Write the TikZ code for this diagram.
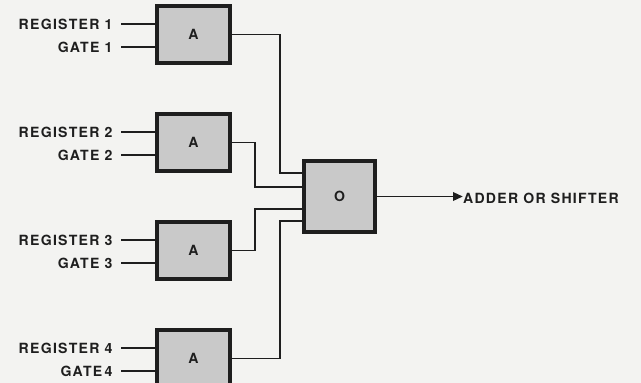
\documentclass[tikz,border=0pt]{standalone}
\usepackage{fontspec}
\newfontfamily\letterfont[LetterSpace=9]{TeX Gyre Heros}
\usetikzlibrary{arrows.meta, positioning, calc}
\definecolor{paper}{HTML}{F3F3F1}
\definecolor{boxgray}{HTML}{C9C9C9}
\definecolor{ink}{HTML}{1E1E1E}
\tikzset{
    font=\letterfont\bfseries\fontsize{10}{12}\selectfont,
    % Shapes
    gate/.style={rectangle, draw=ink, fill=boxgray, line width=2.8pt,
                 minimum width=1.82cm, minimum height=1.42cm, inner sep=0pt, text=ink},
    orgate/.style={gate, minimum width=1.77cm, minimum height=1.77cm},
    % Wires & Labels
    wire/.style={draw=ink, line width=1.4pt},
    lbl/.style={inner sep=0pt, text=ink}
}

\begin{document}
\begin{tikzpicture}[x=0.025cm, y=-0.025cm]

\useasboundingbox (0,0) rectangle (641,383);
\fill[paper] (0,0) rectangle (641,383);
\clip (0,0) rectangle (641,383);

\node[gate] (a1) at (193.5,34.5) {A};
\node[gate] (a2) at (193.5,142.5) {A};
\node[gate] (a3) at (193.5,250.5) {A};
\node[gate] (a4) at (193.5,358.5) {A};
\node[orgate] (o) at (339.5,196.5) {O};

% inputs
\foreach \i/\g in {1/GATE 1, 2/GATE 2, 3/GATE 3, 4/GATE\,4} {
    \coordinate (r\i) at ($(a\i.west)+(-34,-10.5)$);
    \coordinate (g\i) at ($(a\i.west)+(-34,12.5)$);
    \node[lbl, anchor=east, xshift=-6pt] (rl\i) at (r\i) {REGISTER \i};
    \node[lbl, anchor=east, xshift=-6pt] (gl\i) at (g\i) {\g};
    \draw[wire] (r\i) -- (r\i -| a\i.west);
    \draw[wire] (g\i) -- (g\i -| a\i.west);
}

% into the O box
\draw[wire] (a1.east) -- ++(48,0) |- ($(o.west)+(0,-23.5)$);
\draw[wire] (a2.east) -- ++(23,0) |- ($(o.west)+(0,-9.5)$);
\draw[wire] (a3.east) -- ++(23,0) |- ($(o.west)+(0,12.5)$);
\draw[wire] (a4.east) -- ++(48,0) |- ($(o.west)+(0,24.5)$);

% output
\node[lbl, anchor=west] (out) at ($(o.east)+(86,1.5)$) {ADDER OR SHIFTER};
\draw[wire, -{Triangle[length=7pt, width=6pt]}] (o.east) -- (o.east -| out.west);

\end{tikzpicture}
\end{document}
